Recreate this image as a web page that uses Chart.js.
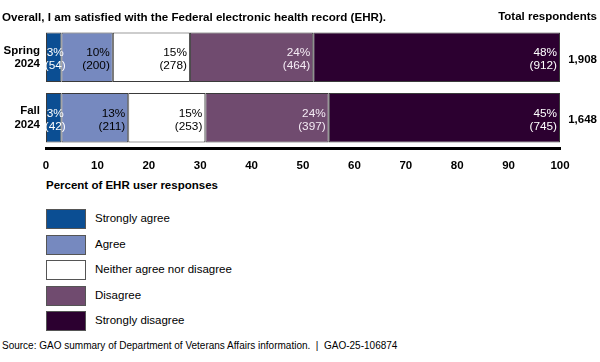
<!DOCTYPE html>
<html>
<head>
<meta charset="utf-8">
<script src="https://cdn.jsdelivr.net/npm/chart.js@4"></script>
<style>
  body { margin: 0; width: 600px; height: 362px; position: relative; background: #fff; font-family: "Liberation Sans", Arial, sans-serif; overflow: hidden; }
  #wrap { position: absolute; left: 0; top: 0; width: 600px; height: 178px; }
  .txt { position: absolute; white-space: nowrap; color: #000; }
  .bold { font-weight: bold; }
  .box { position: absolute; left: 46px; width: 38px; height: 18px; border: 1px solid #555; }
</style>
</head>
<body>
<div id="wrap"><canvas id="myChart"></canvas></div>
<div class="txt bold" style="left:2px; top:10px; font-size:11.6px;">Overall, I am satisfied with the Federal electronic health record (EHR).</div>
<div class="txt bold" style="right:3px; top:10px; font-size:11.5px;">Total respondents</div>
<div class="txt bold" style="left:46px; top:179px; font-size:11.5px;">Percent of EHR user responses</div>
<div id="legend"></div>
<div class="txt" style="left:2px; top:340px; font-size:10px;">Source: GAO summary of Department of Veterans Affairs information.&nbsp; |&nbsp; GAO-25-106874</div>

<script>
const surveys = [["Spring", "2024"], ["Fall", "2024"]];
const answers = ["Strongly agree", "Agree", "Neither agree nor disagree", "Disagree", "Strongly disagree"];
const colors = ["#0b4e93", "#7689bf", "#ffffff", "#704b6f", "#2c0030"];
const labelColors = ["#ffffff", "#000000", "#000000", "#f4eaf4", "#ffffff"];

// percent of responses per answer, [spring, fall]
const stronglyAgree = [3, 3];
const agree = [10, 13];
const neither = [15, 15];
const disagree = [24, 24];
const stronglyDisagree = [48, 45];

// number of responses per answer, [spring, fall]
const countLabels = [["(54)", "(42)"], ["(200)", "(211)"], ["(278)", "(253)"], ["(464)", "(397)"], ["(912)", "(745)"]];
const totals = ["1,908", "1,648"];

const seriesData = [stronglyAgree, agree, neither, disagree, stronglyDisagree];

let legend = document.getElementById("legend");
answers.forEach((name, i) => {
  const top = 209 + i * 25.5;
  legend.innerHTML += `
    <div class="box" style="top:${top}px; background:${colors[i]}"></div>
    <div class="txt" style="left:95px; top:${top + 3}px; font-size:11.5px;">${name}</div>
  `;
});

// drawn after everything so the small first segment's labels are not clipped
const segmentLabels = {
  id: "segmentLabels",
  afterDraw(chart) {
    const c = chart.ctx;
    c.save();
    c.font = "11.8px 'Liberation Sans', Arial";
    c.textBaseline = "middle";
    chart.data.datasets.forEach((ds, i) => {
      const meta = chart.getDatasetMeta(i);
      meta.data.forEach((bar, j) => {
        let x = bar.x - 3;
        c.textAlign = "right";
        // narrow segment: centre the text on it
        if (bar.x - bar.base < 30) {
          x = (bar.x + bar.base) / 2 + 1.5;
          c.textAlign = "center";
        }
        c.fillStyle = labelColors[i];
        c.fillText(ds.data[j] + "%", x, bar.y - 4.5);
        c.fillText(countLabels[i][j], x, bar.y + 8.5);
      });
    });
    c.textAlign = "right";
    c.fillStyle = "#000";
    c.font = "bold 11.5px 'Liberation Sans', Arial";
    const ys = chart.scales.y;
    totals.forEach((t, j) => {
      c.fillText(t, 597, ys.getPixelForValue(j) + 2.5);
    });
    c.restore();
  }
};

const ctx = document.getElementById("myChart");

new Chart(ctx, {
  type: "bar",
  data: {
    labels: surveys,
    datasets: answers.map((name, i) => ({
      label: name,
      data: seriesData[i],
      backgroundColor: colors[i],
      borderColor: "#3a3a3a",
      borderWidth: 1,
      borderSkipped: false,
      barPercentage: 0.82,
      categoryPercentage: 1
    }))
  },
  options: {
    indexAxis: "y",
    responsive: true,
    maintainAspectRatio: false,
    animation: false,
    layout: { padding: { top: 27, right: 40, left: 0, bottom: 0 } },
    plugins: { legend: { display: false }, tooltip: { enabled: false } },
    scales: {
      x: {
        stacked: true,
        min: 0,
        max: 100,
        ticks: { stepSize: 10, color: "#000", font: { family: "'Liberation Sans', Arial", size: 11.5, weight: "bold" }, padding: 11 },
        grid: { display: false, drawTicks: false },
        border: { color: "#000", width: 3 },
        afterFit: scale => { scale.height = 30; }
      },
      y: {
        stacked: true,
        ticks: { color: "#000", font: { family: "'Liberation Sans', Arial", size: 11.5, weight: "bold" }, padding: 6 },
        grid: { display: false, drawTicks: false },
        border: { display: false },
        afterFit: scale => { scale.width = 46; }
      }
    }
  },
  plugins: [segmentLabels]
});
</script>
</body>
</html>
